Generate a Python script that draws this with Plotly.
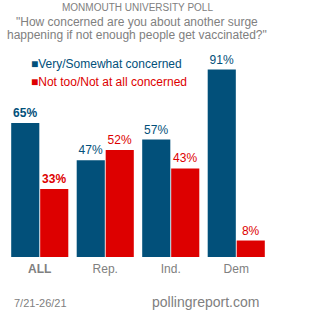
import plotly.graph_objects as go

categories = ["ALL", "Rep.", "Ind.", "Dem"]
concerned = [65, 47, 57, 91]
not_concerned = [33, 52, 43, 8]
series_names = ["Very/Somewhat concerned", "Not too/Not at all concerned"]
title_lines = ["MONMOUTH UNIVERSITY POLL",
               "\"How concerned are you about another surge",
               "happening if not enough people get vaccinated?\""]
date_text = "7/21-26/21"
source_text = "pollingreport.com"

BLUE = "#02507A"
RED = "#DD0000"
GRAY = "#808080"
FONT = "Liberation Sans, Arial, sans-serif"

W, H = 313, 312
L, R, T, B = 7, 44, 51, 55
PW, PH = W - L - R, H - T - B


def px(x):
    return (x - L) / PW


def py(y):
    return (H - B - y) / PH


def labels(vals):
    out = []
    for c, v in zip(categories, vals):
        s = f"{v}%"
        out.append(f"<b>{s}</b>" if c == "ALL" else s)
    return out


fig = go.Figure()
fig.add_trace(go.Bar(x=categories, y=concerned, name=series_names[0],
                     marker=dict(color=BLUE, line=dict(width=0)),
                     text=labels(concerned), textposition="outside",
                     textfont=dict(color=BLUE, size=12, family=FONT),
                     constraintext="none", cliponaxis=False, showlegend=False))
fig.add_trace(go.Bar(x=categories, y=not_concerned, name=series_names[1],
                     marker=dict(color=RED, line=dict(width=0)),
                     text=labels(not_concerned), textposition="outside",
                     textfont=dict(color=RED, size=12, family=FONT),
                     constraintext="none", cliponaxis=False, showlegend=False))

ticktext = [f"<b>{c}</b>" if c == "ALL" else c for c in categories]

annotations = []
title_y = [7, 22, 35]
title_sizes = [10, 12, 12]
for t, yy, s in zip(title_lines, title_y, title_sizes):
    annotations.append(dict(text=t, x=px(137), y=py(yy), xref="paper", yref="paper",
                            xanchor="center", yanchor="middle", showarrow=False,
                            font=dict(size=s, color=GRAY, family=FONT)))
for name, col, yy in [(series_names[0], BLUE, 64), (series_names[1], RED, 82)]:
    annotations.append(dict(text=f"■{name}", x=px(29), y=py(yy), xref="paper", yref="paper",
                            xanchor="left", yanchor="middle", showarrow=False,
                            font=dict(size=12, color=col, family=FONT)))
annotations.append(dict(text=date_text, x=px(12), y=py(303), xref="paper", yref="paper",
                        xanchor="left", yanchor="middle", showarrow=False,
                        font=dict(size=11, color=GRAY, family=FONT)))
annotations.append(dict(text=source_text, x=px(205), y=py(302), xref="paper", yref="paper",
                        xanchor="center", yanchor="middle", showarrow=False,
                        font=dict(size=14, color=GRAY, family=FONT)))

fig.update_layout(
    width=W, height=H,
    margin=dict(l=L, r=R, t=T, b=B, pad=0),
    paper_bgcolor="white", plot_bgcolor="white",
    barmode="group", bargap=0.115, bargroupgap=0.03,
    showlegend=False,
    font=dict(family=FONT, color=GRAY),
    xaxis=dict(tickvals=categories, ticktext=ticktext, showgrid=False, zeroline=False,
               showline=False, ticks="", tickfont=dict(size=12, color=GRAY, family=FONT),
               ticklabelstandoff=3, range=[-0.5, 3.5]),
    yaxis=dict(range=[0, 100], visible=False, showgrid=False, zeroline=False),
    annotations=annotations,
)

fig.write_html("out.html")
